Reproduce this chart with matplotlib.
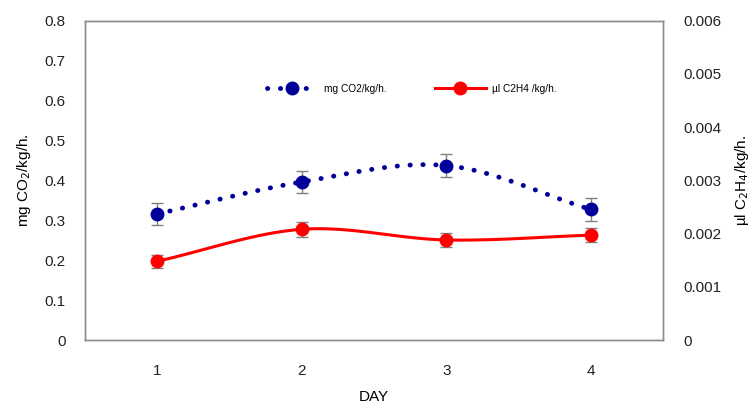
import numpy as np
import matplotlib
matplotlib.use("Agg")
import matplotlib.pyplot as plt

plt.rcParams['font.family'] = ['Liberation Sans', 'DejaVu Sans']

# data
days = [1, 2, 3, 4]
co2 = [0.316, 0.396, 0.437, 0.327]
co2_err = [0.028, 0.028, 0.028, 0.029]
c2h4 = [0.00148, 0.00208, 0.00188, 0.00197]
c2h4_err = [0.000125, 0.00014, 0.00013, 0.00013]

def smooth(x, y, n=40):
    # Excel-like smoothed line (Catmull-Rom through the points)
    x = np.asarray(x, float)
    y = np.asarray(y, float)
    px = np.concatenate([[2 * x[0] - x[1]], x, [2 * x[-1] - x[-2]]])
    py = np.concatenate([[2 * y[0] - y[1]], y, [2 * y[-1] - y[-2]]])
    xs, ys = [], []
    t = np.linspace(0, 1, n)
    for i in range(1, len(px) - 2):
        p0, p1, p2, p3 = py[i - 1], py[i], py[i + 1], py[i + 2]
        q0, q1, q2, q3 = px[i - 1], px[i], px[i + 1], px[i + 2]
        ys.append(0.5 * (2 * p1 + (-p0 + p2) * t + (2 * p0 - 5 * p1 + 4 * p2 - p3) * t**2
                         + (-p0 + 3 * p1 - 3 * p2 + p3) * t**3))
        xs.append(0.5 * (2 * q1 + (-q0 + q2) * t + (2 * q0 - 5 * q1 + 4 * q2 - q3) * t**2
                         + (-q0 + 3 * q1 - 3 * q2 + q3) * t**3))
    return np.concatenate(xs), np.concatenate(ys)

fig = plt.figure(figsize=(7.53, 4.09), dpi=100)
ax = fig.add_axes([0.1129, 0.1687, 0.7676, 0.7807])
ax2 = ax.twinx()

blue = '#000099'
red = '#ff0000'
grey = '#808080'
dots = (0, (0.05, 2.6))

sx, sy = smooth(days, co2)
ax.plot(sx, sy, color=blue, lw=3.5, linestyle=dots, dash_capstyle='round', zorder=2)
ax.errorbar(days, co2, yerr=co2_err, fmt='none', ecolor=grey, elinewidth=1, capsize=4, zorder=3)
ax.plot(days, co2, 'o', color=blue, ms=9, zorder=4)

sx2, sy2 = smooth(days, c2h4)
ax2.plot(sx2, sy2, color=red, lw=2.2, zorder=2)
ax2.errorbar(days, c2h4, yerr=c2h4_err, fmt='none', ecolor=grey, elinewidth=1, capsize=4, zorder=3)
ax2.plot(days, c2h4, 'o', color=red, ms=9, zorder=4)

ax.set_xlim(0.5, 4.5)
ax.set_ylim(0, 0.8)
ax2.set_ylim(0, 0.006)
ax.set_xticks(days)
ax.set_yticks(np.arange(0, 0.81, 0.1))
ax.set_yticklabels(['0'] + ['%.1f' % v for v in np.arange(0.1, 0.81, 0.1)])
ax2.set_yticks(np.arange(0, 0.0061, 0.001))
ax2.set_yticklabels(['0'] + ['%.3f' % v for v in np.arange(0.001, 0.0061, 0.001)])

for a in (ax, ax2):
    a.tick_params(length=0, labelsize=11, colors='#222222')
    for s in a.spines.values():
        s.set_color('#8c8c8c')
        s.set_linewidth(1)
ax.tick_params(axis='y', pad=14)
ax.tick_params(axis='x', pad=17)
ax2.tick_params(axis='y', pad=15)

ax.set_xlabel('DAY', fontsize=11, labelpad=9)
ax.set_ylabel('mg CO$_2$/kg/h.', fontsize=11, labelpad=8)
ax2.set_ylabel('µl C$_2$H$_4$/kg/h.', fontsize=11, labelpad=8)

# legend
h1 = plt.Line2D([], [], color=blue, lw=3.5, linestyle=dots, dash_capstyle='round',
                marker='o', ms=9)
h2 = plt.Line2D([], [], color=red, lw=2.2, marker='o', ms=9)
leg = ax.legend([h1, h2], ['mg CO2/kg/h.', 'µl C2H4 /kg/h.'], loc='center',
                bbox_to_anchor=(0.565, 0.786), ncol=2, frameon=False, fontsize=7.3,
                handlelength=5.0, columnspacing=4.8, handletextpad=0.6)

fig.savefig('out.png', dpi=100)
